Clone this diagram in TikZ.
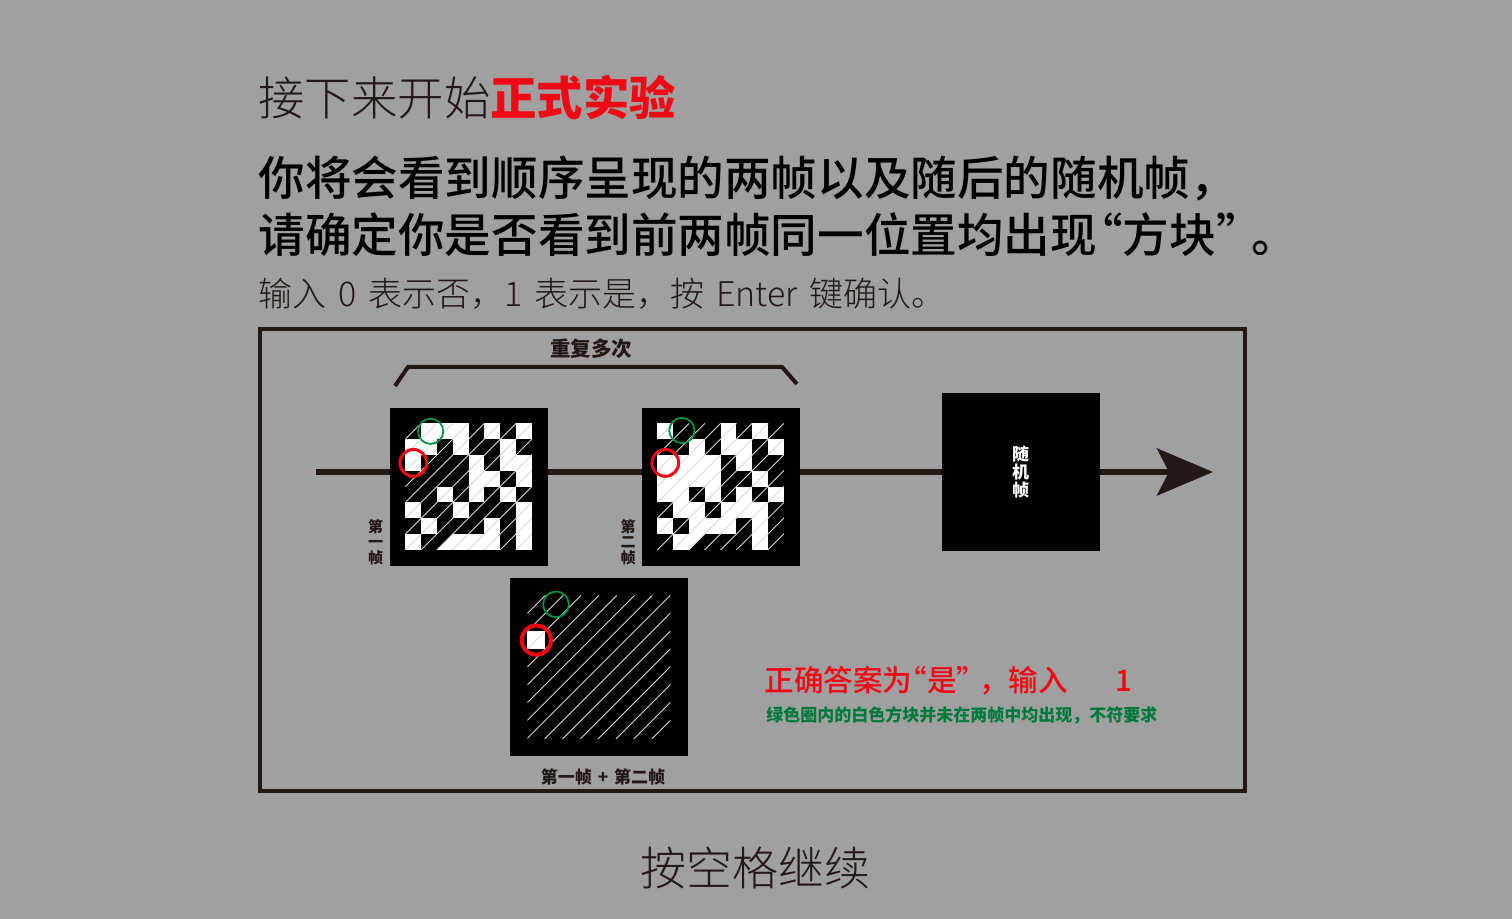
\documentclass[tikz,border=0pt]{standalone}
\usepackage{fontspec}
\usetikzlibrary{arrows.meta}
\newfontfamily\cjk{Noto Sans CJK SC}
\newfontfamily\cjkthin{Noto Sans CJK SC Light}
\newfontfamily\cjkmid{Noto Sans CJK SC Medium}
\newcommand\gap{\hspace{0.35em}}
\definecolor{bg}{RGB}{160,160,160}
\definecolor{ink}{RGB}{35,24,21}
\definecolor{hot}{RGB}{240,8,20}
\definecolor{okgreen}{RGB}{0,122,60}
\definecolor{ring}{RGB}{0,150,70}
\begin{document}
\begin{tikzpicture}[x=0.5pt,y=-0.5pt,
    line/.style={inner sep=0pt, anchor=west, text=ink},
    frame/.style={fill=black, inner sep=0pt, minimum size=79pt},
    tag/.style={inner sep=0pt, align=center, text=ink, font=\cjk\bfseries\fontsize{7.5}{7.8}\selectfont},
    hatch/.style={white!85!black, line width=0.45pt},
    redring/.style={draw=hot, line width=1.5pt},
    greenring/.style={draw=ring, line width=0.9pt}]
  \fill[bg] (0,0) rectangle (1512,919);
  \useasboundingbox (0,0) rectangle (1512,919);

  \node[line, font=\cjkthin\fontsize{23.2}{23}\selectfont] (t1) at (258,98)
    {接下来开始\textcolor{hot}{\cjk\bfseries 正式实验}};
  \node[line, text=black, font=\cjkmid\fontsize{23.3}{23}\selectfont] (t2) at (258,178)
    {你将会看到顺序呈现的两帧以及随后的随机帧，};
  \node[line, text=black, font=\cjkmid\fontsize{23.3}{23}\selectfont] (t3) at (258,235)
    {请确定你是否看到前两帧同一位置均出现\kern-0.45em“方块”\kern-0.25em。};
  \node[line, font=\cjkthin\fontsize{17}{17}\selectfont] (t4) at (258,294)
    {输入\gap 0\gap 表示否，1\gap 表示是，按\gap Enter\gap 键确认。};

  \draw[ink, line width=2.25pt] (260,329) rectangle (1245,791);

  \node[tag, font=\cjk\bfseries\fontsize{10.25}{11}\selectfont] (rep) at (591,349) {重复多次};
  \draw[ink, line width=2pt] (395,386) -- (408,367) -- (782,367) -- (797,384);

  \coordinate (start) at (316,472);
  \coordinate (tip) at (1213,472);
  \draw[ink, line width=2.75pt, -{Stealth[length=28pt, width=23.5pt, inset=6pt]}] (start) -- (tip);

  \node[frame] (f1) at (469,487) {};
  \node[frame] (f2) at (721,487) {};
  \node[frame] (rnd) at (1020.5,472.5) {};
  \node[frame, minimum size=89pt] (sum) at (599,667) {};

  \begin{scope}[shift={(f1.north west)}, scale=15.8]
    \foreach \row [count=\r from 1] in {{0,1,1,1,0,1,0,1},{1,1,0,1,0,0,1,0},{1,0,0,0,1,0,1,1},{0,0,0,0,1,1,0,1},
        {0,0,1,0,1,0,1,0},{1,0,0,1,0,0,0,1},{0,1,0,0,0,1,0,1},{1,0,2,1,1,1,0,1}}
      \foreach \v [count=\c from 1] in \row {
        \ifcase\v
        \or \fill[white] (\c,\r) rectangle ++(1,1);
        \or \fill[white] (\c+1,\r) -- (\c+1,\r+1) -- (\c,\r+1) -- cycle;
        \or \fill[white] (\c,\r) -- (\c+1,\r) -- (\c,\r+1) -- cycle;
        \fi
      };
    \begin{scope}
      \clip (1,1) rectangle (9,9);
      \foreach \k in {2,...,16} \draw[hatch] (1,\k) -- (\k,1);
    \end{scope}
    \draw[redring] (1.5,3.5) circle [radius=0.85];
    \draw[greenring] (2.6,1.5) circle [radius=0.8];
  \end{scope}

  \begin{scope}[shift={(f2.north west)}, scale=15.8]
    \foreach \row [count=\r from 1] in {{1,0,0,0,1,0,1,0},{0,0,1,0,1,1,0,1},{1,1,1,1,0,1,0,0},{1,1,1,1,0,0,1,0},
        {1,1,0,1,0,1,0,1},{0,1,1,0,1,1,1,0},{1,0,1,1,1,0,1,0},{0,1,3,0,0,0,1,0}}
      \foreach \v [count=\c from 1] in \row {
        \ifcase\v
        \or \fill[white] (\c,\r) rectangle ++(1,1);
        \or \fill[white] (\c+1,\r) -- (\c+1,\r+1) -- (\c,\r+1) -- cycle;
        \or \fill[white] (\c,\r) -- (\c+1,\r) -- (\c,\r+1) -- cycle;
        \fi
      };
    \begin{scope}
      \clip (1,1) rectangle (9,9);
      \foreach \k in {2,...,16} \draw[hatch] (1,\k) -- (\k,1);
    \end{scope}
    \draw[redring] (1.5,3.5) circle [radius=0.85];
    \draw[greenring] (2.55,1.45) circle [radius=0.8];
  \end{scope}

  \begin{scope}[shift={(sum.north west)}, scale=17.85]
    \fill[white] (1,3) rectangle ++(1,1);
    \begin{scope}
      \clip (1,1) rectangle (9,9);
      \foreach \k in {2,...,16} \draw[hatch] (1,\k) -- (\k,1);
    \end{scope}
    \draw[redring, line width=2pt] (1.5,3.5) circle [radius=0.82];
    \draw[greenring] (2.6,1.5) circle [radius=0.72];
  \end{scope}

  \node[tag] (lab1) at (375.5,542) {第\\一\\帧};
  \node[tag] (lab2) at (628,542) {第\\二\\帧};
  \node[tag, text=white, font=\cjk\bfseries\fontsize{8.5}{9}\selectfont] (rndtxt) at (rnd.center) {随\\机\\帧};
  \node[tag, font=\cjk\bfseries\fontsize{8.5}{9}\selectfont] (lab3) at (603,777) {第一帧\gap+\gap 第二帧};

  \node[line, text=hot, font=\cjkmid\fontsize{14.8}{15}\selectfont] (ans) at (764,681)
    {正确答案为\kern-0.5em“是”\kern-0.25em，输入\hspace{1.6em}1};
  \node[line, text=okgreen, font=\cjk\bfseries\fontsize{8.5}{9}\selectfont] (note) at (766,715)
    {绿色圈内的白色方块并未在两帧中均出现，不符要求};

  \node[inner sep=0pt, text=ink, font=\cjkthin\fontsize{23}{23}\selectfont] (cont) at (755,868) {按空格继续};
\end{tikzpicture}
\end{document}
